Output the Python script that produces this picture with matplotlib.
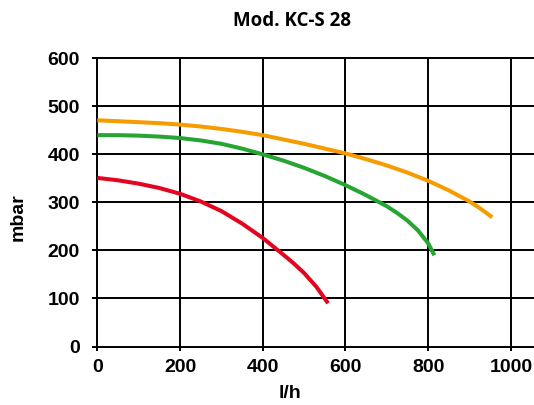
"""
Kennlinie Mod. KC-S 28
"""
import matplotlib
matplotlib.use("Agg")
import matplotlib.pyplot as plt

# Daten (l/h, mbar)
orange_x = [0, 50, 100, 150, 200, 250, 300, 350, 400, 450, 500, 550, 600,
            650, 700, 750, 800, 850, 900, 925, 955]
orange_y = [471, 469, 467, 465, 462, 458, 453, 447, 440, 431, 422, 412, 402,
            390, 377, 362, 345, 325, 302, 288, 269]

green_x = [0, 50, 100, 150, 200, 250, 300, 350, 400, 450, 500, 550, 600,
           650, 700, 725, 750, 775, 800, 815]
green_y = [440, 440, 439, 437, 434, 429, 422, 412, 400, 387, 372, 355, 336,
           315, 292, 278, 262, 242, 215, 190]

red_x = [0, 50, 100, 150, 200, 250, 300, 350, 400, 450, 475, 500, 530, 558]
red_y = [351, 346, 339, 330, 318, 302, 282, 256, 226, 191, 173, 153, 124, 90]

x_ticks = [0, 200, 400, 600, 800, 1000]
y_ticks = [0, 100, 200, 300, 400, 500, 600]

plt.rcParams['font.family'] = ['Liberation Sans', 'DejaVu Sans']

fig = plt.figure(figsize=(5.34, 4.05), dpi=100)
ax = fig.add_axes([97.3 / 534, 58.5 / 405, 1 - 97.3 / 534, 288.2 / 405])

for xs, ys, c in [(orange_x, orange_y, "#F59C00"),
                  (green_x, green_y, "#27A532"),
                  (red_x, red_y, "#E30520")]:
    ax.plot(xs, ys, color=c, lw=2.9, solid_capstyle="butt",
            solid_joinstyle="round")

ax.set_xlim(0, 1056)
ax.set_ylim(0, 600)
ax.set_xticks(x_ticks)
ax.set_yticks(y_ticks)
ax.grid(True, color="black", lw=1.4)
for gl in ax.get_xgridlines() + ax.get_ygridlines():
    gl.set_clip_on(False)
ax.set_axisbelow(True)
for s in ax.spines.values():
    s.set_visible(False)

ax.tick_params(axis="y", length=3.4, width=1.4, pad=9, labelsize=14)
ax.tick_params(axis="x", length=3.2, width=1.4, pad=6, labelsize=14)
for lab in ax.get_xticklabels() + ax.get_yticklabels():
    lab.set_fontweight("bold")

fig.text(292 / 534, 1 - 21 / 405, "Mod. KC-S 28", ha="center", va="center",
         fontsize=13.5, fontweight="bold", family=["Open Sans", "DejaVu Sans"])
fig.text(18 / 534, 1 - 217 / 405, "mbar", ha="center", va="center",
         rotation=90, fontsize=14, fontweight="bold")
fig.text(290 / 534, 1 - 394 / 405, "l/h", ha="center", va="center",
         fontsize=14, fontweight="bold")

fig.savefig("out.png", dpi=100)
